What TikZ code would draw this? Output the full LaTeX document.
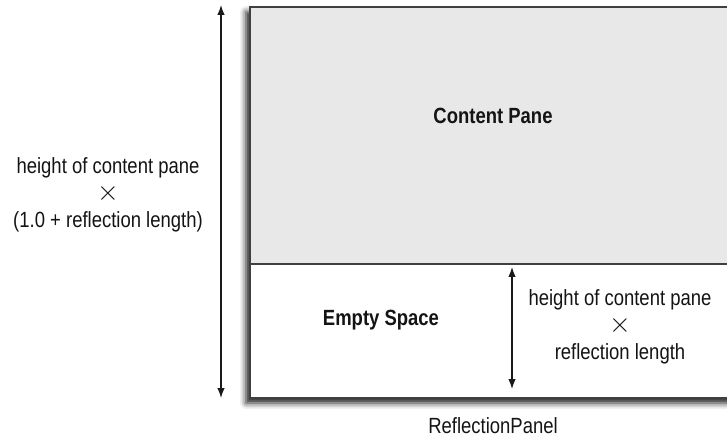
\documentclass[tikz,border=0pt]{standalone}
\usepackage{fontspec}
\setmainfont{Liberation Sans}[FakeStretch=0.84]
\usetikzlibrary{arrows.meta,shadows.blur}
\newcommand{\bigtimes}{\scalebox{1.35}{$\times$}}
\begin{document}
\begin{tikzpicture}[x=1bp,y=-1bp,
  lbl/.style={font=\fontsize{22bp}{27bp}\selectfont, text=black!92, align=center, inner sep=0pt},
  blbl/.style={lbl, font=\fontsize{22bp}{27bp}\selectfont\bfseries},
  dim/.style={line width=1.3bp, black!90, {Latex[length=10bp,width=7.5bp]}-{Latex[length=10bp,width=7.5bp]}},
  pane/.style={draw=black!75, line width=1.8bp}]
\useasboundingbox (0,0) rectangle (727,439);
% outer panel with shadow
\path[blur shadow={shadow xshift=-3bp, shadow yshift=-6bp, shadow blur radius=6bp, shadow opacity=90}]
  (249,6) rectangle (740,397);
\fill[black!9] (249,6) rectangle (740,263);
\fill[white] (249,263) rectangle (740,397);
\node[pane, fill=none, minimum width=491bp, minimum height=257bp, anchor=north west, inner sep=0pt] (content) at (249,6) {};
\node[pane, fill=none, minimum width=491bp, minimum height=134bp, anchor=north west, inner sep=0pt] (empty) at (249,263) {};
\node[blbl] (ct) at (493,116) {Content Pane};
\node[blbl] (et) at (381,320) {Empty Space};
% dimension arrows
\coordinate (lt) at (221,5);
\coordinate (lb) at (221,398);
\draw[dim] (lt) -- (lb);
\coordinate (rt) at (512,267);
\coordinate (rb) at (512,389);
\draw[dim] (rt) -- (rb);
\node[lbl] (ltx) at (108,195) {height of content pane\\\bigtimes\\(1.0 + reflection length)};
\node[lbl] (rtx) at (620,327) {height of content pane\\\bigtimes\\reflection length};
\node[lbl] (cap) at (493,426) {ReflectionPanel};
\end{tikzpicture}
\end{document}
